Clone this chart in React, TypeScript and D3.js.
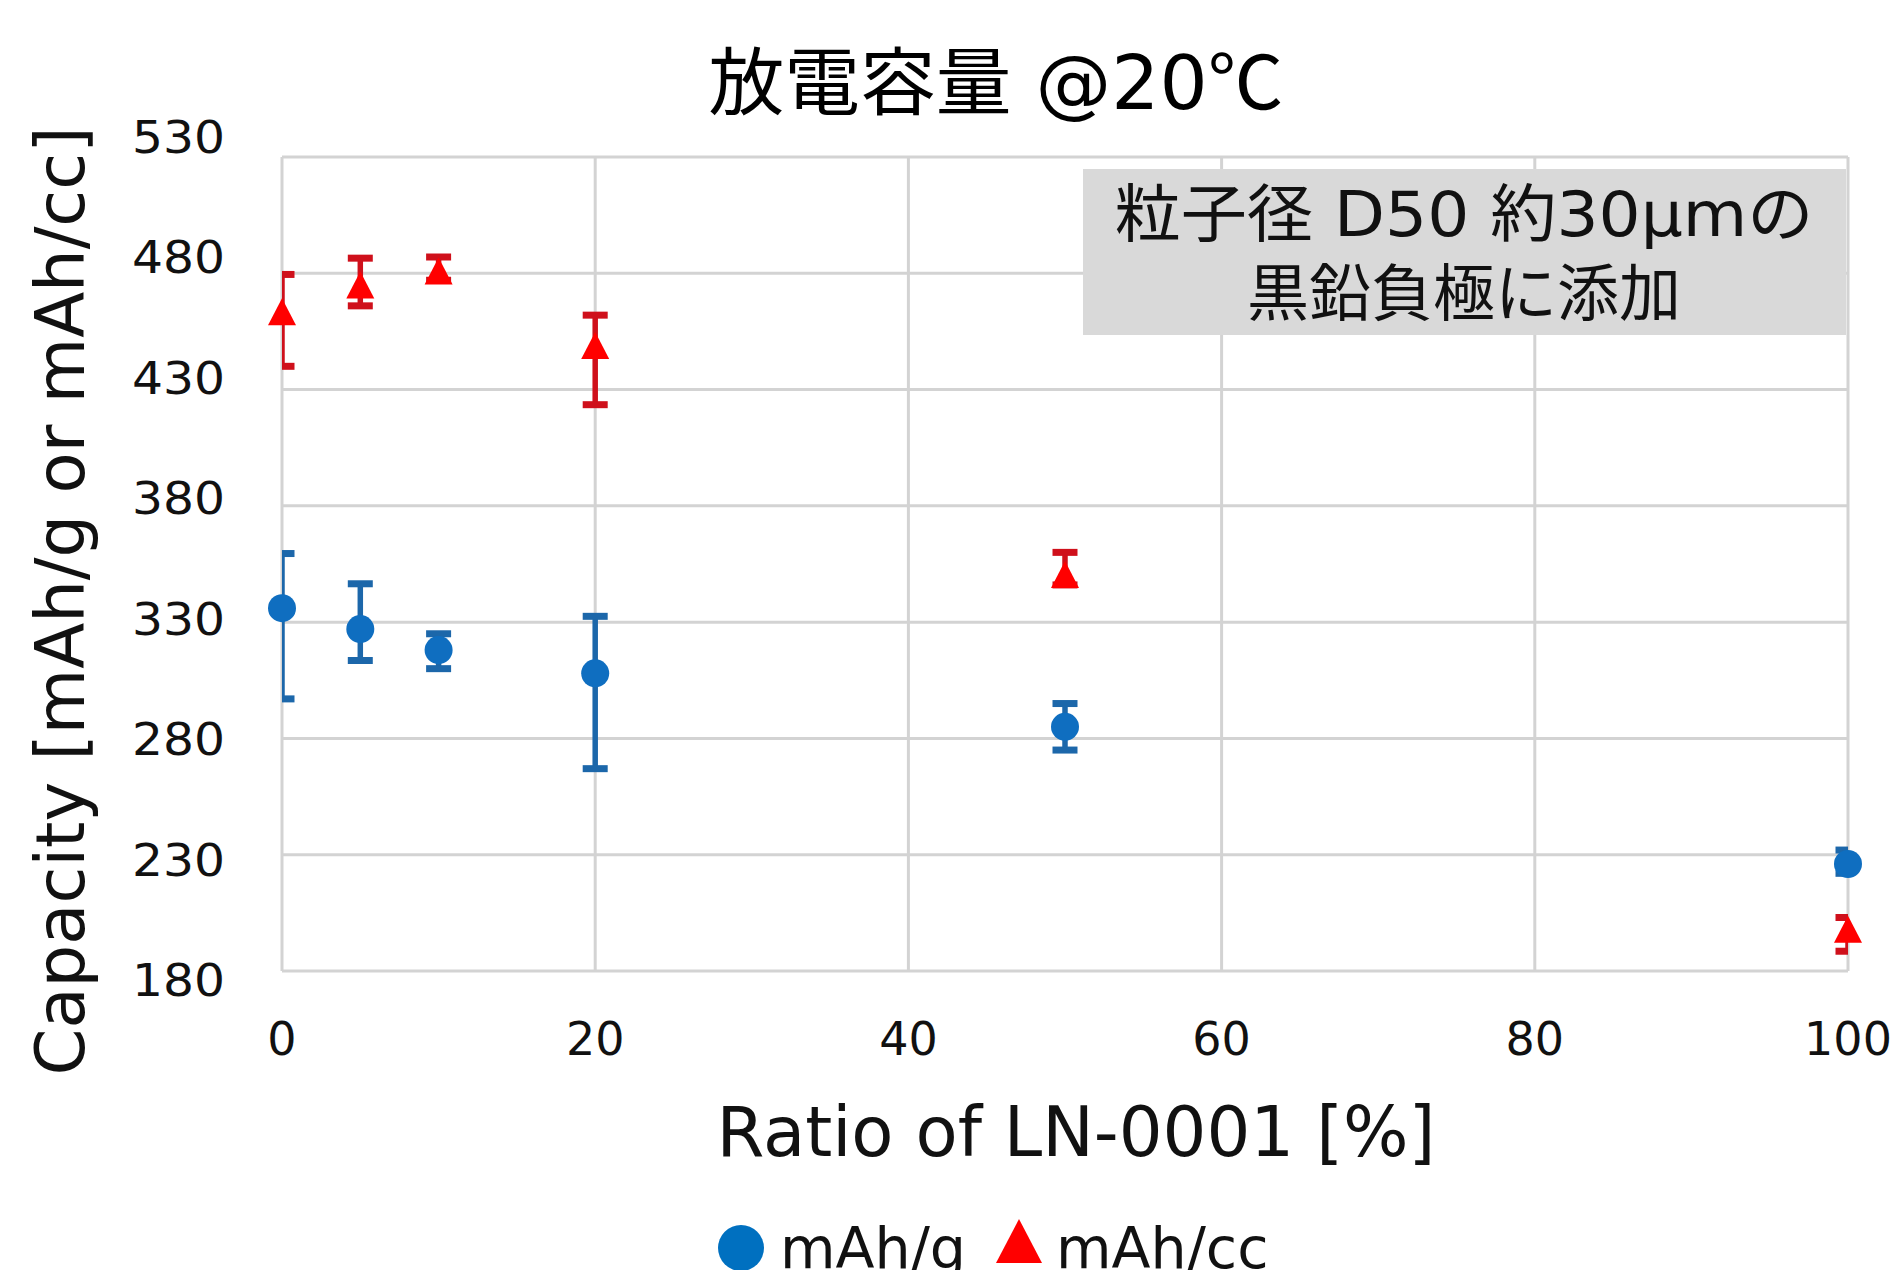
import React, { useEffect } from 'react';
import * as d3 from 'd3';

// LN-0001 ratio [%]
const ratios = [0, 5, 10, 20, 50, 100];

// mAh/g series (marker value, lower and upper end of the error bar)
const mAhPerG = [336, 327, 318, 308, 285, 226];
const mAhPerGLow = [297, 313.5, 310, 267, 275, 222];
const mAhPerGHigh = [359.5, 346.5, 325, 332.5, 295, 232];

// mAh/cc series
const mAhPerCc = [463.5, 475, 481, 449, 350.5, 198];
const mAhPerCcLow = [440, 466, 477, 423.5, 346, 188.5];
const mAhPerCcHigh = [479.5, 486.5, 487, 462, 360, 203];

const xTicks = [0, 20, 40, 60, 80, 100];
const yTicks = [180, 230, 280, 330, 380, 430, 480, 530];

const W = 1896;
const H = 1270;
const LATIN = '"DejaVu Sans", "Noto Sans CJK JP", sans-serif';
const CJK = '"Noto Sans CJK JP", "DejaVu Sans", sans-serif';

const BLUE = '#0f6ec0';
const BLUE_BAR = '#1c67aa';
const RED = '#ff0000';
const RED_BAR = '#cf101b';
const GRID = '#d3d3d3';

const plot = { left: 282, right: 1848, top: 157, bottom: 971 };

const triPath = (w: number, h: number) => {
  const p = d3.path();
  p.moveTo(0, -h / 2);
  p.lineTo(w / 2, h / 2);
  p.lineTo(-w / 2, h / 2);
  p.closePath();
  return p.toString();
};

const App: React.FC = () => {
  useEffect(() => {
    document.body.style.margin = '0';
    document.body.style.overflow = 'hidden';
  }, []);

  const x = d3.scaleLinear().domain([0, 100]).range([plot.left, plot.right]);
  const y = d3.scaleLinear().domain([180, 530]).range([plot.bottom, plot.top]);
  // tick labels in the picture sit on a slightly wider spacing than the grid
  const yLabel = d3.scaleLinear().domain([180, 530]).range([980, 137]);

  const circle = d3.symbol().type(d3.symbolCircle).size(Math.PI * 14 * 14)() || '';
  const tri = triPath(28, 27);

  const series = [
    { vals: mAhPerG, lo: mAhPerGLow, hi: mAhPerGHigh, bar: BLUE_BAR, fill: BLUE, shape: circle },
    { vals: mAhPerCc, lo: mAhPerCcLow, hi: mAhPerCcHigh, bar: RED_BAR, fill: RED, shape: tri },
  ];

  const capW = 25;

  return (
    <svg width={W} height={H} style={{ position: 'absolute', left: 0, top: 0, background: '#fff' }}>
      <defs>
        <clipPath id="plotClip">
          <rect x={plot.left} y={0} width={plot.right - plot.left} height={H} />
        </clipPath>
      </defs>

      {/* Title */}
      <text x={996} y={109} textAnchor="middle" fontFamily={LATIN} fontSize={74} fill="#000"
        textLength={575} lengthAdjust="spacingAndGlyphs">
        <tspan fontFamily={CJK}>放電容量</tspan>
        <tspan> @20</tspan>
        <tspan fontFamily={CJK}>℃</tspan>
      </text>

      {/* Grid */}
      {yTicks.map((t) => (
        <line key={'gy' + t} x1={plot.left} x2={plot.right} y1={y(t)} y2={y(t)} stroke={GRID} strokeWidth={3} />
      ))}
      {xTicks.map((t) => (
        <line key={'gx' + t} x1={x(t)} x2={x(t)} y1={plot.top} y2={plot.bottom} stroke={GRID} strokeWidth={3} />
      ))}

      {/* Note box */}
      <rect x={1083} y={169} width={763} height={166} fill="#d9d9d9" />
      <text x={1464} y={236} textAnchor="middle" fontFamily={LATIN} fontSize={63} fill="#111"
        textLength={699} lengthAdjust="spacingAndGlyphs">
        <tspan fontFamily={CJK}>粒子径</tspan>
        <tspan> D50 </tspan>
        <tspan fontFamily={CJK}>約</tspan>
        <tspan>30µm</tspan>
        <tspan fontFamily={CJK}>の</tspan>
      </text>
      <text x={1464} y={316} textAnchor="middle" fontFamily={CJK} fontSize={62} fill="#111">
        黒鉛負極に添加
      </text>

      {/* Y tick labels */}
      {yTicks.map((t) => (
        <text key={'yl' + t} x={225} y={yLabel(t) + 16} textAnchor="end" fontFamily={LATIN} fontSize={45} fill="#111"
          textLength={93} lengthAdjust="spacingAndGlyphs">
          {t}
        </text>
      ))}

      {/* X tick labels */}
      {xTicks.map((t) => (
        <text key={'xl' + t} x={x(t)} y={1055} textAnchor="middle" fontFamily={LATIN} fontSize={46} fill="#111">
          {t}
        </text>
      ))}

      {/* Axis titles */}
      <text x={1076} y={1156} textAnchor="middle" fontFamily={LATIN} fontSize={70} fill="#111"
        textLength={719} lengthAdjust="spacingAndGlyphs">
        Ratio of LN-0001 [%]
      </text>
      <text transform="translate(84,601) rotate(-90)" textAnchor="middle" fontFamily={LATIN} fontSize={68} fill="#111"
        textLength={949} lengthAdjust="spacingAndGlyphs">
        Capacity [mAh/g or mAh/cc]
      </text>

      {/* Error bars */}
      <g clipPath="url(#plotClip)">
        {series.map((s, si) =>
          ratios.map((r, i) => (
            <g key={`eb${si}-${i}`} stroke={s.bar}>
              <line x1={x(r)} x2={x(r)} y1={y(s.lo[i])} y2={y(s.hi[i])} strokeWidth={5.5} />
              <line x1={x(r) - capW / 2} x2={x(r) + capW / 2} y1={y(s.lo[i])} y2={y(s.lo[i])} strokeWidth={7} />
              <line x1={x(r) - capW / 2} x2={x(r) + capW / 2} y1={y(s.hi[i])} y2={y(s.hi[i])} strokeWidth={7} />
            </g>
          ))
        )}
      </g>

      {/* Markers */}
      {series.map((s, si) =>
        ratios.map((r, i) => (
          <path key={`m${si}-${i}`} d={s.shape} transform={`translate(${x(r)},${y(s.vals[i])})`} fill={s.fill} />
        ))
      )}

      {/* Legend */}
      <circle cx={741} cy={1248} r={23} fill="#0070c0" />
      <text x={780} y={1268} fontFamily={LATIN} fontSize={57} fill="#111">mAh/g</text>
      <path d={triPath(46, 44)} transform="translate(1019,1241)" fill={RED} />
      <text x={1056} y={1268} fontFamily={LATIN} fontSize={57} fill="#111">mAh/cc</text>
    </svg>
  );
};

export default App;
